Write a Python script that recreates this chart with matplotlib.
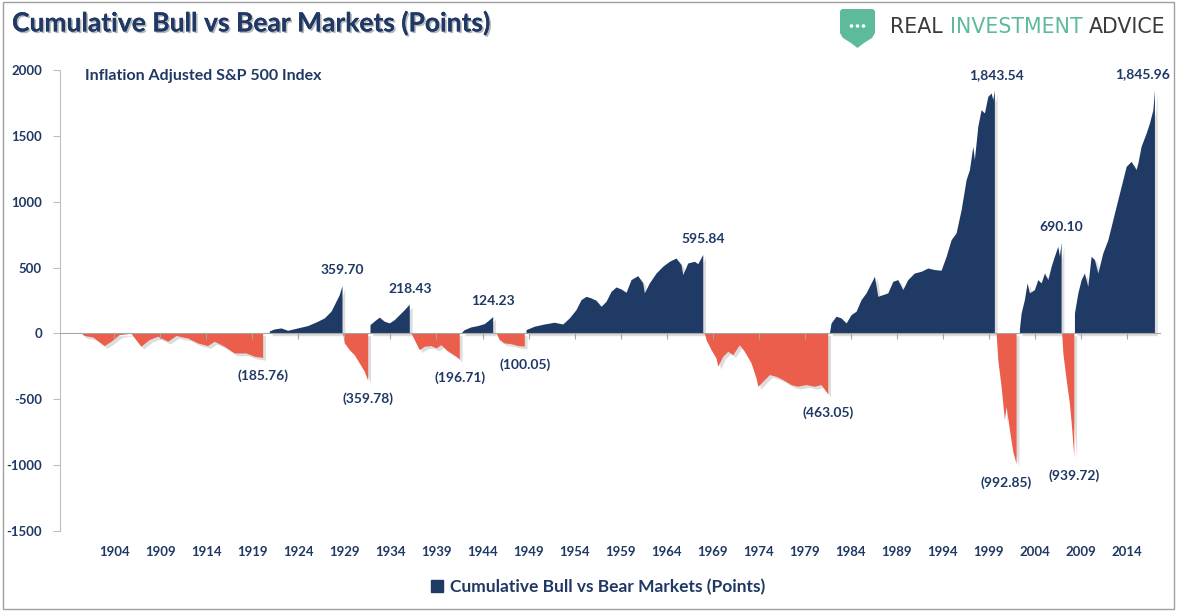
import numpy as np
import matplotlib
matplotlib.use('Agg')
import matplotlib.pyplot as plt
import matplotlib.patheffects as pe
from matplotlib.patches import Polygon, Rectangle, Ellipse, Patch

W, H = 1178, 613

navy = '#1f3a64'
red = '#eb5e4c'
txt_col = '#1f3864'

# --- data (year, cumulative points) ---
bear1_x = [1900.43, 1900.78, 1901.70, 1902.96, 1903.69, 1904.59, 1905.86, 1906.94, 1907.85, 1908.76,
           1909.85, 1910.75, 1912.02, 1913.11, 1914.19, 1914.91, 1916.00, 1917.08, 1918.35, 1919.26, 1920.17]
bear1_y = [0, -20, -30, -96, -63, -13, -3, -101, -50, -25,
           -63, -20, -38, -76, -96, -63, -101, -152, -152, -177, -185.76]

bull2_x = [1920.89, 1921.43, 1922.16, 1922.89, 1923.97, 1925.06, 1926.15, 1926.86, 1927.59, 1928.13, 1928.49, 1928.79]
bull2_y = [15, 30, 38, 20, 38, 56, 89, 114, 165, 240, 291, 359.70]

bear3_x = [1928.86, 1929.04, 1929.58, 1930.12, 1930.67, 1931.21, 1931.58]
bear3_y = [0, -76, -127, -165, -228, -291, -359.78]

bull4_x = [1931.83, 1932.48, 1932.84, 1933.38, 1933.93, 1934.47, 1935.01, 1935.56, 1936.10]
bull4_y = [63, 101, 120, 89, 76, 101, 139, 177, 218.43]

bear5_x = [1936.28, 1936.64, 1937.19, 1937.73, 1938.46, 1939.00, 1939.54, 1940.09, 1940.63, 1941.17, 1941.53]
bear5_y = [0, -51, -127, -101, -96, -114, -89, -127, -152, -177, -196.71]

bull6_x = [1941.72, 1942.07, 1942.80, 1943.53, 1944.25, 1944.79, 1945.16]
bull6_y = [0, 25, 46, 56, 71, 101, 124.23]

bear7_x = [1945.52, 1945.88, 1946.42, 1947.15, 1947.88, 1948.59]
bear7_y = [0, -51, -76, -81, -96, -100.05]

bull8_x = [1948.78, 1949.68, 1950.77, 1951.85, 1952.77, 1953.48, 1954.21, 1954.76, 1955.30, 1955.84,
           1956.39, 1956.93, 1957.47, 1958.02, 1958.56, 1959.10, 1959.65, 1960.19, 1960.92, 1961.46,
           1961.63, 1962.18, 1962.91, 1963.63, 1964.35, 1965.08, 1965.62, 1965.81, 1966.35, 1967.07,
           1967.44, 1967.98]
bull8_y = [25, 51, 68, 81, 68, 114, 177, 253, 278, 266,
           248, 202, 240, 316, 349, 334, 309, 405, 435, 380,
           304, 380, 455, 506, 544, 569, 519, 443, 531, 544,
           526, 595.84]

bear9_x = [1968.15, 1968.34, 1968.88, 1969.42, 1969.61, 1970.15, 1970.70, 1971.24, 1971.96, 1972.50,
           1973.23, 1973.77, 1973.96, 1974.50, 1975.22, 1975.94, 1976.67, 1977.57, 1978.30, 1979.20,
           1980.11, 1980.83, 1981.56]
bear9_y = [0, -51, -127, -190, -253, -177, -139, -165, -89, -139,
           -228, -342, -405, -367, -316, -329, -354, -392, -405, -392,
           -405, -392, -463.05]

bull10_x = [1981.74, 1981.92, 1982.46, 1983.01, 1983.55, 1984.09, 1984.64, 1985.18, 1985.72, 1986.27,
            1986.63, 1987.00, 1987.54, 1988.08, 1988.63, 1989.17, 1989.71, 1990.25, 1990.97, 1991.70,
            1992.43, 1993.15, 1993.87, 1994.42, 1994.96, 1995.50, 1996.05, 1996.59, 1996.95, 1997.32,
            1997.49, 1997.86, 1998.22, 1998.58, 1998.95, 1999.31, 1999.49, 1999.66]
bull10_y = [0, 76, 127, 114, 76, 139, 165, 253, 304, 380,
            430, 278, 291, 304, 392, 405, 329, 405, 455, 468,
            493, 481, 476, 582, 708, 759, 936, 1164, 1240, 1417,
            1316, 1569, 1695, 1670, 1796, 1822, 1771, 1843.54]

bear11_x = [1999.85, 2000.03, 2000.39, 2000.75, 2000.94, 2001.29, 2001.66, 2002.02]
bear11_y = [0, -203, -405, -658, -557, -734, -899, -992.85]

bull12_x = [2002.38, 2002.57, 2002.92, 2003.22, 2003.47, 2004.01, 2004.38, 2004.74, 2005.10, 2005.47,
            2005.83, 2006.18, 2006.55, 2006.73, 2006.91]
bull12_y = [30, 152, 253, 380, 304, 329, 405, 380, 455, 405,
            506, 582, 658, 582, 690.10]

bear13_x = [2006.97, 2007.10, 2007.46, 2007.81, 2008.07, 2008.29]
bear13_y = [0, -152, -354, -532, -734, -939.72]

bull14_x = [2008.36, 2008.73, 2009.09, 2009.44, 2009.81, 2010.17, 2010.53, 2010.90, 2011.44, 2011.99,
            2012.53, 2013.07, 2013.62, 2013.98, 2014.52, 2015.06, 2015.25, 2015.60, 2016.15, 2016.51,
            2016.88, 2017.05]
bull14_y = [152, 304, 405, 455, 354, 582, 557, 455, 607, 708,
            860, 1012, 1164, 1265, 1303, 1240, 1290, 1417, 1518, 1594,
            1695, 1845.96]

year_ticks = list(range(1904, 2015, 5))
y_ticks = [2000, 1500, 1000, 500, 0, -500, -1000, -1500]

segments = [
    (bear1_x, bear1_y), (bull2_x, bull2_y), (bear3_x, bear3_y), (bull4_x, bull4_y),
    (bear5_x, bear5_y), (bull6_x, bull6_y), (bear7_x, bear7_y), (bull8_x, bull8_y),
    (bear9_x, bear9_y), (bull10_x, bull10_y), (bear11_x, bear11_y), (bull12_x, bull12_y),
    (bear13_x, bear13_y), (bull14_x, bull14_y),
]


def fmt_label(v):
    if v < 0:
        return '({:,.2f})'.format(-v)
    return '{:,.2f}'.format(v)


plt.rcParams['font.family'] = ['Lato', 'DejaVu Sans']
plt.rcParams['font.weight'] = 'bold'

fig = plt.figure(figsize=(W / 100, H / 100), dpi=100)
ax = fig.add_axes([60 / W, 1 - 531 / H, (1160 - 60) / W, (531 - 70) / H])

shadow = [pe.withSimplePatchShadow(offset=(2, -2), shadow_rgbFace='#909090', alpha=0.3)]

# label nudges in pixels for the crowded ones
nudge = {9: (2, 0), 10: (-10, 0), 13: (-12, 0)}

for i, (xs, ys) in enumerate(segments):
    ys = np.array(ys, dtype=float)
    c = navy if ys[-1] > 0 else red
    poly = ax.fill_between(xs, 0, ys, color=c, lw=0)
    poly.set_path_effects(shadow)

    dx, _ = nudge.get(i, (0, 0))
    dy = 16 if ys[-1] > 0 else -18
    ax.annotate(fmt_label(ys[-1]), (xs[-1], ys[-1]), xytext=(dx * 0.72, dy * 0.72),
                textcoords='offset points', ha='center', va='center',
                fontsize=10, fontweight='bold', color=txt_col)

ax.set_xlim(1898.1, 2017.6)
ax.set_ylim(-1500, 2000)

# y axis
ax.set_yticks(y_ticks)
ax.set_yticklabels([str(v) for v in y_ticks])
ax.tick_params(axis='y', direction='out', length=5, color='#bfbfbf', labelsize=9.5,
               labelcolor=txt_col, pad=8)
ax.spines['left'].set_color('#bfbfbf')
ax.spines['top'].set_visible(False)
ax.spines['right'].set_visible(False)

# zero line acts as category axis
ax.spines['bottom'].set_position(('data', 0))
ax.spines['bottom'].set_color('#a6a6a6')
ax.set_xticks(year_ticks)
ax.tick_params(axis='x', direction='out', length=4, color='#a6a6a6', labelbottom=False)

sec = ax.secondary_xaxis('bottom')
sec.set_xticks(year_ticks)
sec.set_xticklabels([str(y) for y in year_ticks])
sec.tick_params(length=0, labelsize=9.5, labelcolor=txt_col, pad=11)
sec.spines['bottom'].set_visible(False)

for t in ax.get_yticklabels() + sec.get_xticklabels():
    t.set_fontweight('bold')

ax.text(85 / W, 1 - 76 / H, 'Inflation Adjusted S&P 500 Index', transform=fig.transFigure,
        ha='left', va='center', fontsize=11.5, fontweight='bold', color=txt_col)

# title
fig.text(12 / W, 1 - 23 / H, 'Cumulative Bull vs Bear Markets (Points)', ha='left', va='center',
         fontsize=19, fontweight='bold', color=txt_col,
         path_effects=[pe.withSimplePatchShadow(offset=(1.2, -1.2), alpha=0.3), pe.Normal()])

# legend
fig.legend(handles=[Patch(facecolor=navy, edgecolor=navy)],
           labels=['Cumulative Bull vs Bear Markets (Points)'],
           loc='center', bbox_to_anchor=(598 / W, 1 - 587 / H), frameon=False,
           handlelength=0.7, handleheight=0.7, handletextpad=0.4,
           prop={'size': 12.5, 'weight': 'bold'}, labelcolor=txt_col)


# logo
def fx(px):
    return px / W


def fy(py):
    return 1 - py / H


shield_px = [(842, 9), (873, 9), (875, 11), (875, 33), (872, 38), (864, 43), (857.5, 48),
             (851, 43), (843, 38), (840, 33), (840, 11)]
shield = Polygon([(fx(a), fy(b)) for a, b in shield_px], closed=True, transform=fig.transFigure,
                 facecolor='#5dbb9b', edgecolor='none')
fig.patches.append(shield)
for cx in (851.5, 857.5, 863.5):
    fig.patches.append(Ellipse((fx(cx), fy(26)), 3.6 / W, 3.6 / H, transform=fig.transFigure,
                               facecolor='white', edgecolor='none'))

fig.canvas.draw()
rend = fig.canvas.get_renderer()
xpos = 890
for part, col in [('REAL', '#3a3a3a'), ('INVESTMENT', '#5dbb9b'), ('ADVICE', '#3a3a3a')]:
    t = fig.text(fx(xpos), fy(27), part, ha='left', va='center', fontsize=14.8,
                 fontweight='normal', color=col, family='DejaVu Sans')
    bb = t.get_window_extent(rend)
    xpos += bb.width + 7

# outer frame
fig.patches.append(Rectangle((fx(3), fy(609)), fx(1174) - fx(3), fy(2) - fy(609),
                             transform=fig.transFigure, fill=False, edgecolor='#a0a0a0', lw=1))

fig.savefig('out.png', dpi=100)
